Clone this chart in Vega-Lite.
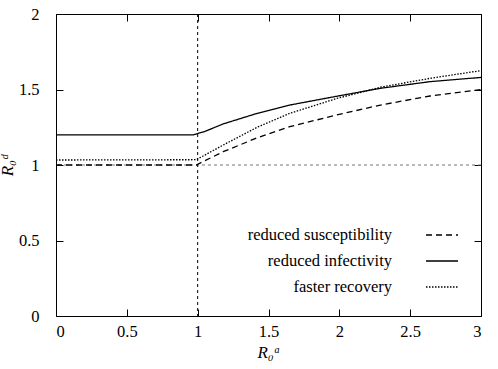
{
  "$schema": "https://vega.github.io/schema/vega-lite/v6.json",
  "width": 425,
  "height": 302,
  "autosize": "none",
  "padding": {"left": 56, "top": 14, "right": 17, "bottom": 53},
  "background": "white",
  "config": {
    "view": {"stroke": "black", "strokeWidth": 1},
    "font": "Liberation Serif",
    "axis": {"ticks": true, "tickOpacity": 1, "tickColor": "black", "tickWidth": 1, "tickDash": [], "tickCap": "butt", "zindex": 2}
  },
  "datasets": {
    "curves": [
      {"series": "reduced susceptibility", "x": 0, "y": 1.0},
      {"series": "reduced susceptibility", "x": 0.99, "y": 1.0},
      {"series": "reduced susceptibility", "x": 1.18, "y": 1.088},
      {"series": "reduced susceptibility", "x": 1.42, "y": 1.18},
      {"series": "reduced susceptibility", "x": 1.65, "y": 1.254},
      {"series": "reduced susceptibility", "x": 1.98, "y": 1.331},
      {"series": "reduced susceptibility", "x": 2.29, "y": 1.397},
      {"series": "reduced susceptibility", "x": 2.64, "y": 1.457},
      {"series": "reduced susceptibility", "x": 3.0, "y": 1.5},
      {"series": "reduced infectivity", "x": 0, "y": 1.2},
      {"series": "reduced infectivity", "x": 0.97, "y": 1.2},
      {"series": "reduced infectivity", "x": 1.05, "y": 1.222},
      {"series": "reduced infectivity", "x": 1.18, "y": 1.272},
      {"series": "reduced infectivity", "x": 1.42, "y": 1.342},
      {"series": "reduced infectivity", "x": 1.65, "y": 1.397},
      {"series": "reduced infectivity", "x": 1.98, "y": 1.455},
      {"series": "reduced infectivity", "x": 2.29, "y": 1.508},
      {"series": "reduced infectivity", "x": 2.64, "y": 1.552},
      {"series": "reduced infectivity", "x": 3.0, "y": 1.58},
      {"series": "faster recovery", "x": 0, "y": 1.033},
      {"series": "faster recovery", "x": 0.99, "y": 1.035},
      {"series": "faster recovery", "x": 1.18, "y": 1.132},
      {"series": "faster recovery", "x": 1.42, "y": 1.25},
      {"series": "faster recovery", "x": 1.65, "y": 1.342},
      {"series": "faster recovery", "x": 1.98, "y": 1.44},
      {"series": "faster recovery", "x": 2.29, "y": 1.515},
      {"series": "faster recovery", "x": 2.64, "y": 1.574},
      {"series": "faster recovery", "x": 3.0, "y": 1.625}
    ],
    "vline": [{"x": 1}],
    "hline": [{"y": 1}]
  },
  "resolve": {"axis": {"x": "independent", "y": "independent"}},
  "layer": [
    {
      "data": {"name": "hline"},
      "mark": {"type": "rule", "color": "#777777", "strokeWidth": 1, "strokeDash": [3, 3]},
      "encoding": {
        "y": {"field": "y", "type": "quantitative", "scale": {"domain": [0, 2]}, "axis": {"values": [0, 0.5, 1, 1.5, 2], "format": "~g", "title": "R₀ᵈ", "titlePadding": 2, "domain": false, "grid": false, "ticks": true, "tickSize": -7, "tickColor": "black", "tickWidth": 1, "tickOpacity": 1, "labelFont": "Liberation Serif", "labelFontSize": 16.5, "labelColor": "black", "labelPadding": 24, "titleFont": "Liberation Serif", "titleFontSize": 17, "titleFontStyle": "italic", "titleFontWeight": "normal", "titleColor": "black"}}
      }
    },
    {
      "data": {"name": "vline"},
      "mark": {"type": "rule", "color": "black", "strokeWidth": 1, "strokeDash": [3, 3]},
      "encoding": {
        "x": {"field": "x", "type": "quantitative", "scale": {"domain": [0, 3]}, "axis": {"values": [0, 0.5, 1, 1.5, 2, 2.5, 3], "format": "~g", "title": "R₀ᵃ", "titlePadding": 5, "domain": false, "grid": false, "ticks": true, "tickSize": -7, "tickColor": "black", "tickWidth": 1, "tickOpacity": 1, "labelFont": "Liberation Serif", "labelFontSize": 16.5, "labelColor": "black", "labelPadding": 14, "titleFont": "Liberation Serif", "titleFontSize": 17, "titleFontStyle": "italic", "titleFontWeight": "normal", "titleColor": "black"}}
      }
    },
    {
      "data": {"name": "curves"},
      "mark": {"type": "line", "color": "black", "strokeWidth": 1.3, "clip": true},
      "encoding": {
        "x": {"field": "x", "type": "quantitative", "scale": {"domain": [0, 3]}, "axis": {"orient": "top", "values": [0, 0.5, 1, 1.5, 2, 2.5, 3], "labels": false, "title": null, "domain": false, "grid": false, "ticks": true, "tickSize": -7, "tickColor": "black", "tickWidth": 1, "tickOpacity": 1}},
        "y": {"field": "y", "type": "quantitative", "scale": {"domain": [0, 2]}, "axis": {"orient": "right", "values": [0, 0.5, 1, 1.5, 2], "labels": false, "title": null, "domain": false, "grid": false, "ticks": true, "tickSize": -7, "tickColor": "black", "tickWidth": 1, "tickOpacity": 1}},
        "detail": {"field": "series"},
        "strokeDash": {
          "field": "series",
          "type": "nominal",
          "scale": {
            "domain": ["reduced susceptibility", "reduced infectivity", "faster recovery"],
            "range": [[6, 4], [1, 0], [1.5, 1.5]]
          },
          "legend": {
            "title": null,
            "orient": "bottom-right",
            "offset": 20,
            "symbolType": "stroke",
            "symbolSize": 1024,
            "symbolStrokeColor": "black",
            "symbolStrokeWidth": 1.3,
            "labelAlign": "right",
            "labelOffset": -67,
            "labelFont": "Liberation Serif",
            "labelFontSize": 16.5,
            "labelColor": "black",
            "labelLimit": 300,
            "rowPadding": -9
          }
        }
      }
    }
  ]
}
